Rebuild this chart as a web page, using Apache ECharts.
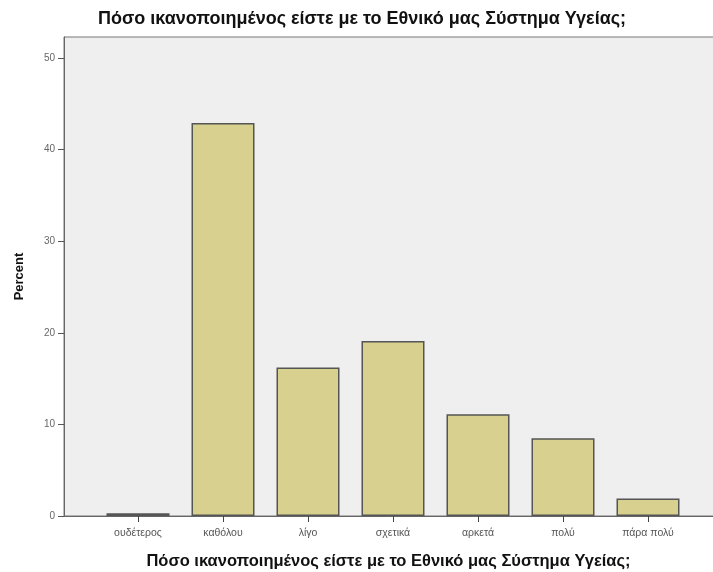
<!DOCTYPE html>
<html>
<head>
<meta charset="utf-8">
<script src="https://cdn.jsdelivr.net/npm/echarts@6/dist/echarts.min.js"></script>
<style>
  html, body { margin: 0; padding: 0; background: #fff; }
  #chart { width: 713px; height: 572px; }
</style>
</head>
<body>
<div id="chart"></div>
<script>
const title = 'Πόσο ικανοποιημένος είστε με το Εθνικό μας Σύστημα Υγείας;';
const categories = ['ουδέτερος', 'καθόλου', 'λίγο', 'σχετικά', 'αρκετά', 'πολύ', 'πάρα πολύ'];
const percents = [0.3, 42.9, 16.2, 19.1, 11.1, 8.5, 1.9];
const yTicks = [0, 10, 20, 30, 40, 50];

const chart = echarts.init(document.getElementById('chart'));
const idx = categories.map((c, i) => i);

// plot box starts at x=64, first category centre sits at x=138, 85px per category
const xMin = -(138 - 64) / 85;
const gridWidth = 713 + 2 - 64;
const xMax = xMin + gridWidth / 85;

chart.setOption({
  backgroundColor: '#ffffff',
  textStyle: { fontFamily: 'Liberation Sans, Arial, sans-serif' },
  title: {
    text: title,
    left: 357,
    top: 5,
    textAlign: 'center',
    textStyle: { fontSize: 18, fontWeight: 'bold', color: '#111' }
  },
  grid: {
    left: 64,
    top: 37,
    right: -2,
    bottom: 572 - 516,
    outerBoundsMode: 'none',
    show: true,
    backgroundColor: '#efefef',
    borderColor: '#777',
    borderWidth: 1
  },
  xAxis: {
    type: 'value',
    min: xMin,
    max: xMax,
    name: title,
    nameLocation: 'middle',
    nameGap: 37,
    nameTextStyle: { fontSize: 16.5, fontWeight: 'bold', color: '#111', padding: [0, 0, 0, -2] },
    axisLine: { show: true, onZero: false, lineStyle: { color: '#666', width: 1 } },
    axisTick: { show: true, customValues: idx, length: 6, lineStyle: { color: '#444' } },
    axisLabel: {
      customValues: idx,
      formatter: v => categories[Math.round(v)],
      fontSize: 10.5,
      color: '#555',
      margin: 12
    },
    splitLine: { show: false }
  },
  yAxis: {
    type: 'value',
    min: 0,
    max: (516 - 37) / 9.16,
    name: 'Percent',
    nameLocation: 'middle',
    nameGap: 38,
    nameTextStyle: { fontSize: 13, fontWeight: 'bold', color: '#111' },
    axisLine: { show: true, onZero: false, lineStyle: { color: '#666', width: 1 } },
    axisTick: { show: true, customValues: yTicks, length: 6, lineStyle: { color: '#555' } },
    axisLabel: { customValues: yTicks, fontSize: 10, color: '#666', margin: 9 },
    splitLine: { show: false }
  },
  series: [{
    type: 'bar',
    barWidth: 63,
    data: percents.map((v, i) => [i, v]),
    itemStyle: { color: '#d7d08f', borderColor: '#555', borderWidth: 1.5 },
    silent: true
  }]
});
</script>
</body>
</html>
